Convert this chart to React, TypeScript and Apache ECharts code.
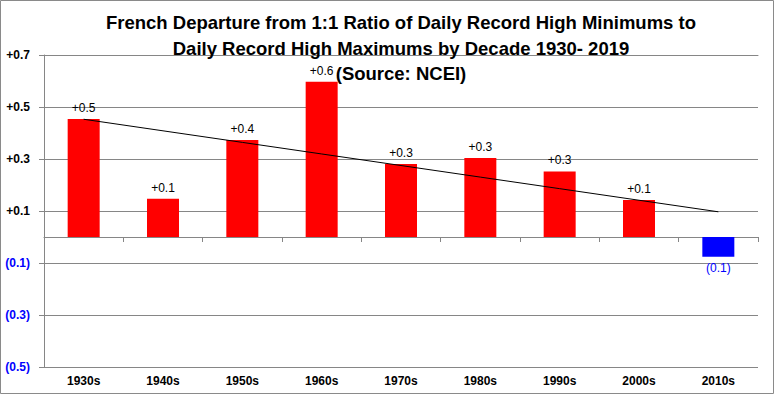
import React, { useEffect, useRef } from "react";
import * as echarts from "echarts";

const decades = ["1930s", "1940s", "1950s", "1960s", "1970s", "1980s", "1990s", "2000s", "2010s"];
const departures = [0.454, 0.147, 0.373, 0.597, 0.281, 0.304, 0.252, 0.142, -0.076];
const yTickValues = [0.7, 0.5, 0.3, 0.1, -0.1, -0.3, -0.5];
const titleLines = [
  "French Departure from 1:1 Ratio of Daily Record High Minimums to",
  "Daily Record High Maximums by Decade 1930- 2019",
  "(Source: NCEI)",
];

const RED = "#FF0000";
const BLUE = "#0000FF";
const GRID = "#868686";
const FONT = "'Liberation Sans', Arial, sans-serif";

const Y_MIN = -0.5;
const Y_MAX = 0.7;
const Y_STEP = 0.2;

function fmt(v: number): string {
  const a = Math.abs(v).toFixed(1);
  return v < 0 ? "(" + a + ")" : "+" + a;
}

function trend(values: number[]): number[] {
  const n = values.length;
  const mx = (n - 1) / 2;
  const my = values.reduce((s, v) => s + v, 0) / n;
  let sxy = 0;
  let sxx = 0;
  values.forEach((v, i) => {
    sxy += (i - mx) * (v - my);
    sxx += (i - mx) * (i - mx);
  });
  const slope = sxy / sxx;
  return values.map((_, i) => +(my + slope * (i - mx)).toFixed(4));
}

export default function App() {
  const ref = useRef<HTMLDivElement>(null);
  useEffect(() => {
    document.body.style.margin = "0";
    if (!ref.current) return;
    const chart = echarts.init(ref.current, undefined, { renderer: "svg" });
    const barData = departures.map((v) =>
      v < 0
        ? { value: v, itemStyle: { color: BLUE }, label: { position: "bottom", color: BLUE } }
        : { value: v, itemStyle: { color: RED } }
    );
    // tick-only helper axis: same span as the main axis, shifted so its ticks
    // (multiples of the step) fall on the labelled values
    const shift = Math.ceil(Y_MIN / Y_STEP) * Y_STEP - Y_MIN;
    chart.setOption({
      animation: false,
      backgroundColor: "#fff",
      graphic: [
        {
          type: "rect",
          shape: { x: 0.5, y: 0.5, width: 773, height: 393 },
          style: { fill: "none", stroke: "#8a8a8a", lineWidth: 1 },
          silent: true,
          z: 100,
        },
        ...titleLines.map((t, i) => ({
          type: "text",
          x: 401,
          y: 22.6 + i * 25.5,
          silent: true,
          z: 50,
          style: {
            text: t,
            align: "center",
            verticalAlign: "middle",
            fill: "#000",
            font: "bold 18.5px " + FONT,
          },
        })),
      ],
      grid: { left: 44, right: 16, top: 55, bottom: 27, containLabel: false },
      xAxis: [
        {
          type: "category",
          data: decades,
          position: "bottom",
          axisLine: { show: false, onZero: false },
          axisTick: { show: false },
          axisLabel: {
            margin: 8,
            fontFamily: FONT,
            fontWeight: "bold",
            fontSize: 12,
            color: "#000",
          },
          splitLine: { show: false },
        },
        {
          type: "category",
          data: decades,
          position: "top",
          axisLine: { show: true, onZero: true, lineStyle: { color: GRID, width: 1 } },
          axisTick: { show: true, inside: true, length: 5, interval: 0, lineStyle: { color: GRID } },
          axisLabel: { show: false },
          splitLine: { show: false },
        },
        {
          type: "category",
          data: decades,
          position: "top",
          axisLine: { show: true, onZero: false, lineStyle: { color: GRID, width: 1 } },
          axisTick: { show: false },
          axisLabel: { show: false },
          splitLine: { show: false },
        },
      ],
      yAxis: [
        {
          type: "value",
          min: Y_MIN,
          max: Y_MAX,
          interval: 0.1,
          position: "left",
          axisLine: { show: true, onZero: false, lineStyle: { color: GRID, width: 1 } },
          axisTick: { show: false },
          splitLine: { show: false },
          axisLabel: {
            margin: 14,
            showMaxLabel: true,
            showMinLabel: true,
            fontFamily: FONT,
            fontWeight: "bold",
            fontSize: 12,
            formatter: (v: number) => {
              const t = Math.round(v * 10);
              return Math.abs(t) % 2 === 1 ? fmt(v) : "";
            },
            color: (v: any) => (Number(v) < 0 ? BLUE : "#000"),
          },
        },
        {
          type: "value",
          min: +(Y_MIN + shift).toFixed(4),
          max: +(Y_MAX + shift).toFixed(4),
          interval: Y_STEP,
          position: "left",
          axisLine: { show: false, onZero: false },
          axisTick: { show: true, length: 5, lineStyle: { color: GRID } },
          axisLabel: { show: false },
          splitLine: { show: false },
        },
      ],
      series: [
        {
          type: "bar",
          xAxisIndex: 0,
          yAxisIndex: 0,
          data: barData,
          barWidth: 32,
          itemStyle: { color: RED },
          label: {
            show: true,
            position: "top",
            distance: 5,
            fontFamily: FONT,
            fontSize: 12,
            color: "#000",
            formatter: (p: any) => fmt(p.value),
          },
          markLine: {
            silent: true,
            symbol: ["none", "none"],
            label: { show: false },
            lineStyle: { color: GRID, type: "solid", width: 1 },
            data: yTickValues.map((v) => ({ yAxis: v })),
            z: 1,
          },
          z: 3,
        },
        {
          type: "line",
          xAxisIndex: 0,
          yAxisIndex: 0,
          data: trend(departures),
          symbol: "none",
          lineStyle: { color: "#000", width: 1 },
          z: 4,
        },
      ],
    });
    return () => chart.dispose();
  }, []);
  return (
    <div
      ref={ref}
      style={{ position: "absolute", left: 0, top: 0, width: 774, height: 394 }}
    />
  );
}
